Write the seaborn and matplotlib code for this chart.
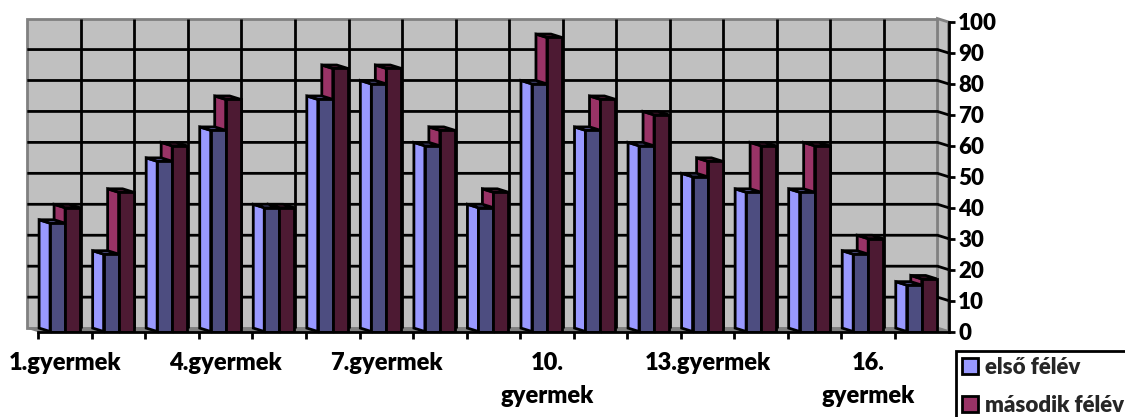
#!/usr/bin/env python3
# -*- coding: utf-8 -*-

import pandas as pd
import matplotlib.pyplot as plt
import seaborn as sns
from matplotlib.patches import Patch, Polygon

# === data ===
children = [f"{i}.gyermek" for i in range(1, 18)]
tick_labels = ["1.gyermek", "", "", "4.gyermek", "", "", "7.gyermek", "", "",
               "10.\ngyermek", "", "", "13.gyermek", "", "", "16.\ngyermek", ""]
first_term = [35, 25, 55, 65, 40, 75, 80, 60, 40, 80, 65, 60, 50, 45, 45, 25, 15]
second_term = [40, 45, 60, 75, 40, 85, 85, 65, 45, 95, 75, 70, 55, 60, 60, 30, 17]
y_ticks = [0, 10, 20, 30, 40, 50, 60, 70, 80, 90, 100]
series_names = ["első félév", "második félév"]

# fake 3D look
DX = 0.205   # depth in category units
DY = 1.1     # depth in value units
WALL = "#C0C0C0"
WALL_EDGE = "#808080"
FRONT = ["#4D4D80", "#4D1A33"]
SIDE = ["#9999FF", "#993366"]
TOP = ["#6F6FB8", "#5E1F40"]
LINE = 2.0
WEIGHT = "heavy"

sns.set_theme(style="white")
plt.rcParams["font.family"] = ["Lato", "DejaVu Sans"]

df = pd.DataFrame({
    "child": children * 2,
    "value": first_term + second_term,
    "term": [series_names[0]] * 17 + [series_names[1]] * 17,
})

fig = plt.figure(figsize=(11.25, 4.17), dpi=100)
ax = fig.add_axes([38.3 / 1125, 1 - 331.5 / 417, 910.2 / 1125, 309.5 / 417])

sns.barplot(data=df, x="child", y="value", hue="term", palette=FRONT, width=0.56,
            gap=0, saturation=1, edgecolor="black", linewidth=LINE, legend=False,
            zorder=5, ax=ax)
ax.set_xlim(-0.5, 16.5)
ax.set_ylim(0, 100)
ax.set_xlabel("")
ax.set_ylabel("")

# back wall, side wall, floor
n = len(children)
left, right = -0.5, n - 0.5
ax.add_patch(Polygon([(left - DX, DY), (right - DX, DY), (right - DX, 100 + DY), (left - DX, 100 + DY)],
                     closed=True, fc=WALL, ec=WALL_EDGE, lw=LINE, zorder=0, clip_on=False))
ax.add_patch(Polygon([(right - DX, DY), (right, 0), (right, 100), (right - DX, 100 + DY)],
                     closed=True, fc=WALL, ec=WALL_EDGE, lw=LINE, zorder=0.5, clip_on=False))
ax.add_patch(Polygon([(left - DX, DY), (right - DX, DY), (right, 0), (left, 0)],
                     closed=True, fc=WALL_EDGE, ec=WALL_EDGE, lw=1, zorder=0.5, clip_on=False))

# grid on the wall
for i in range(1, n):
    ax.plot([left + i - DX] * 2, [DY, 100 + DY], color="black", lw=LINE, zorder=1,
            solid_capstyle="butt", clip_on=False)
for v in y_ticks[1:-1]:
    ax.plot([left - DX, right - DX, right], [v + DY, v + DY, v], color="black", lw=LINE,
            zorder=1, solid_capstyle="butt", clip_on=False)

# side and top faces come from the seaborn bars
for k, container in reversed(list(enumerate(ax.containers))):
    for bar in container:
        x0 = bar.get_x()
        x1 = x0 + bar.get_width()
        h = bar.get_height()
        z = 2 if k == 1 else 3
        ax.add_patch(Polygon([(x0, 0), (x0 - DX, DY), (x0 - DX, h + DY), (x0, h)], closed=True,
                             fc=SIDE[k], ec="black", lw=LINE, zorder=z, clip_on=False))
        ax.add_patch(Polygon([(x0, h), (x0 - DX, h + DY), (x1 - DX, h + DY), (x1, h)], closed=True,
                             fc=TOP[k], ec="black", lw=LINE, zorder=z, clip_on=False))

# axes
sns.despine(ax=ax, left=True, right=False, top=True, bottom=False)
for side in ["right", "bottom"]:
    ax.spines[side].set_color("black")
    ax.spines[side].set_linewidth(LINE)
    ax.spines[side].set_zorder(6)

ax.yaxis.tick_right()
ax.set_yticks(y_ticks)
ax.set_yticklabels([str(v) for v in y_ticks], fontweight=WEIGHT)
ax.tick_params(axis="y", which="major", direction="out", length=4.5, width=LINE, pad=2.5,
               labelsize=16, colors="black", right=True)

ax.set_xticks(range(n))
ax.set_xticklabels(tick_labels, linespacing=1.57, va="top", fontweight=WEIGHT)
ax.set_xticks([left + i for i in range(n)], minor=True)
ax.tick_params(axis="x", which="major", length=0, pad=15, labelsize=17, colors="black")
ax.tick_params(axis="x", which="minor", bottom=True, direction="out", length=5, width=LINE, color="black")

handles = [Patch(facecolor=SIDE[0], edgecolor="black", linewidth=LINE, label=series_names[0]),
           Patch(facecolor=SIDE[1], edgecolor="black", linewidth=LINE, label=series_names[1])]
leg = ax.legend(handles=handles, loc="upper left", bbox_to_anchor=(955.5 / 1125, 1 - 351 / 417),
                bbox_transform=fig.transFigure, fancybox=False, framealpha=1, edgecolor="black",
                fontsize=16, handlelength=0.72, handleheight=0.72, handletextpad=0.35,
                labelspacing=0.76, borderpad=0.27, borderaxespad=0)
leg.get_frame().set_linewidth(LINE)
for t in leg.get_texts():
    t.set_fontweight(WEIGHT)

fig.savefig("out.png", dpi=100)
